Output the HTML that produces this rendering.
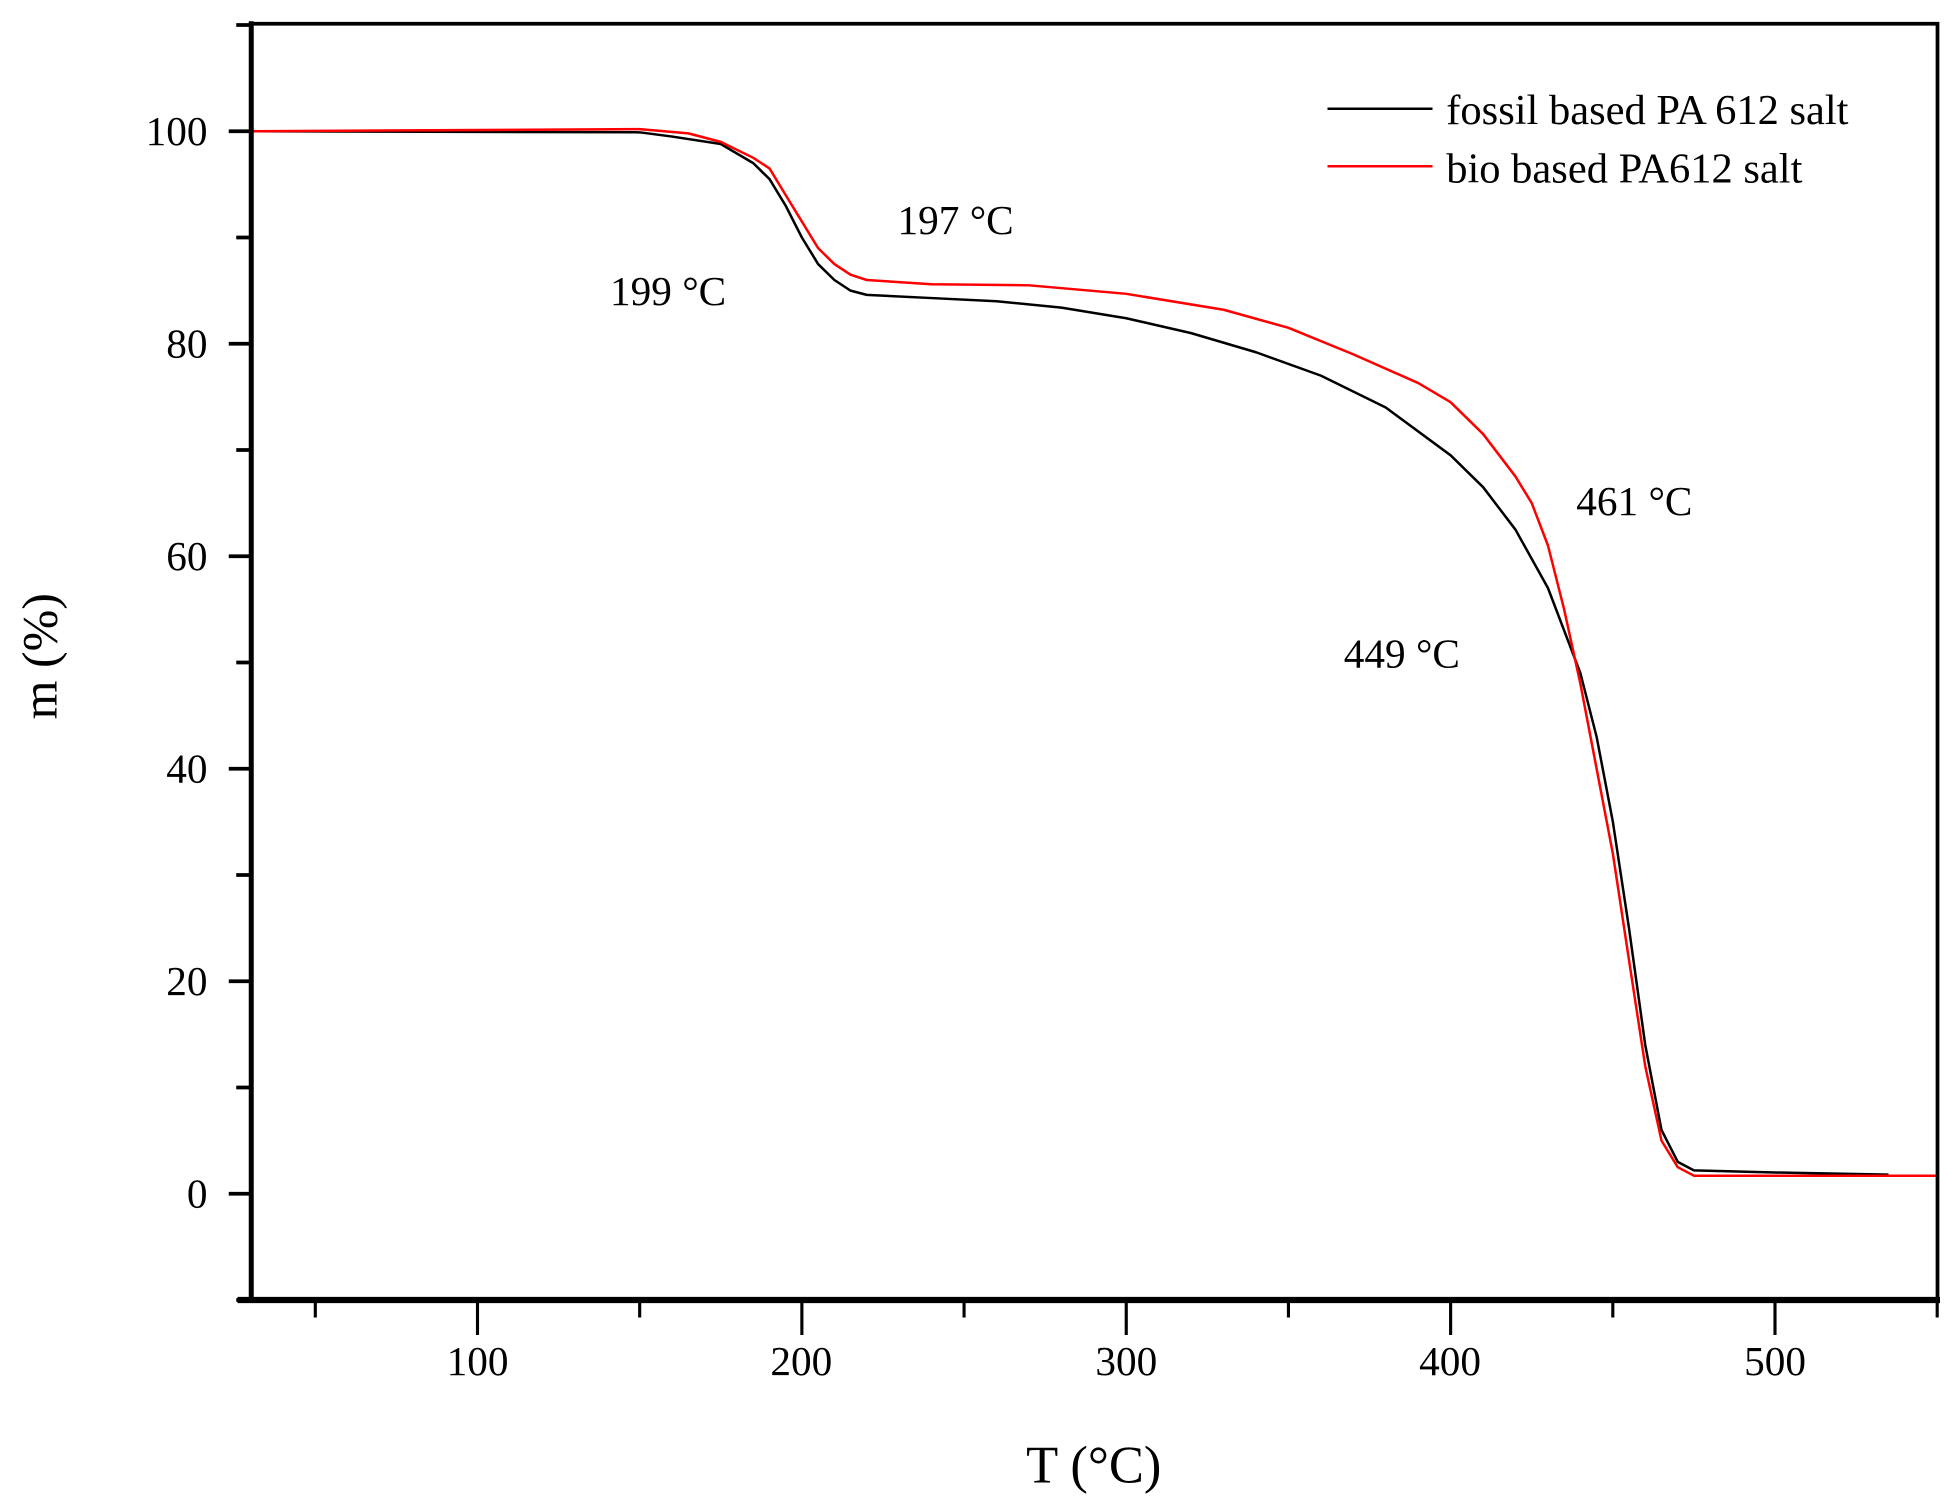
<!DOCTYPE html>
<html><head><meta charset="utf-8"><style>
html,body{margin:0;padding:0;background:#fff;}
svg{display:block;}
text{font-family:"Liberation Serif",serif;fill:#000;}
</style></head><body>
<svg width="1960" height="1507" viewBox="0 0 1568 1205.6" xmlns="http://www.w3.org/2000/svg">
<rect x="0" y="0" width="1568" height="1205.6" fill="#fff"/>
<g stroke="#000" stroke-width="2.5">
<line x1="252.25" y1="1040" x2="252.25" y2="1054"/>
<line x1="382" y1="1040" x2="382" y2="1068"/>
<line x1="511.75" y1="1040" x2="511.75" y2="1054"/>
<line x1="641.5" y1="1040" x2="641.5" y2="1068"/>
<line x1="771.25" y1="1040" x2="771.25" y2="1054"/>
<line x1="901" y1="1040" x2="901" y2="1068"/>
<line x1="1030.75" y1="1040" x2="1030.75" y2="1054"/>
<line x1="1160.5" y1="1040" x2="1160.5" y2="1068"/>
<line x1="1290.25" y1="1040" x2="1290.25" y2="1054"/>
<line x1="1420" y1="1040" x2="1420" y2="1068"/>
<line x1="1549.75" y1="1040" x2="1549.75" y2="1054"/>
</g>
<g stroke="#000" stroke-width="3">
<line x1="189" y1="1040" x2="201" y2="1040"/>
<line x1="183" y1="955" x2="201" y2="955"/>
<line x1="189" y1="870" x2="201" y2="870"/>
<line x1="183" y1="785" x2="201" y2="785"/>
<line x1="189" y1="700" x2="201" y2="700"/>
<line x1="183" y1="615" x2="201" y2="615"/>
<line x1="189" y1="530" x2="201" y2="530"/>
<line x1="183" y1="445" x2="201" y2="445"/>
<line x1="189" y1="360" x2="201" y2="360"/>
<line x1="183" y1="275" x2="201" y2="275"/>
<line x1="189" y1="190" x2="201" y2="190"/>
<line x1="183" y1="105" x2="201" y2="105"/>
<line x1="189" y1="20" x2="201" y2="20"/>
</g>
<polyline fill="none" stroke="#000" stroke-width="2" stroke-linejoin="round" points="200.35,105 511.75,105.85 537.7,109.25 576.6,115.2 602.6,130.5 615.6,143.25 628.5,164.5 641.5,190 654.5,211.25 667.5,224 680.4,232.5 693.4,235.9 745.3,238.45 797.2,241 849.1,246.1 901,254.6 952.9,266.5 1004.8,281.8 1056.7,300.5 1108.6,326 1160.5,364.25 1186.5,389.75 1212.4,423.75 1238.4,470.5 1264.3,538.5 1277.3,589.5 1290.3,657.5 1303.2,742.5 1316.2,836 1329.2,904 1342.2,929.5 1355.1,936.3 1420,938 1510.8,939.7"/>
<polyline fill="none" stroke="#ff0000" stroke-width="2" stroke-linejoin="round" points="200.35,105 511.75,103.3 550.7,106.7 576.6,113.5 602.6,126.25 615.6,134.75 628.5,156 641.5,177.25 654.5,198.5 667.5,211.25 680.4,219.75 693.4,224 745.3,227.4 823.2,228.25 901,235.05 978.9,247.8 1030.8,262.25 1082.7,283.5 1134.6,306.45 1160.5,321.75 1186.5,347.25 1212.4,381.25 1225.4,402.5 1238.4,436.5 1251.3,487.5 1264.3,547 1277.3,615 1290.3,683 1303.2,768 1316.2,853 1329.2,912.5 1342.2,933.75 1355.1,940.55 1549.75,940.55"/>
<rect x="201" y="19" width="1349" height="1021" fill="none" stroke="#000" stroke-width="3"/>
<line x1="190" y1="1040" x2="1552" y2="1040" stroke="#000" stroke-width="5"/>
<line x1="201" y1="17" x2="201" y2="1042" stroke="#000" stroke-width="4"/>
<g font-size="33" text-anchor="end">
<text x="166" y="116">100</text>
<text x="166" y="286">80</text>
<text x="166" y="456">60</text>
<text x="166" y="626">40</text>
<text x="166" y="796">20</text>
<text x="166" y="966">0</text>
</g>
<g font-size="33" text-anchor="middle">
<text x="382" y="1100">100</text>
<text x="641" y="1100">200</text>
<text x="901" y="1100">300</text>
<text x="1160" y="1100">400</text>
<text x="1420" y="1100">500</text>
</g>
<text x="875" y="1186" font-size="42" text-anchor="middle">T (°C)</text>
<text transform="translate(45,525) rotate(-90)" font-size="40" text-anchor="middle">m (%)</text>
<line x1="1062" y1="87" x2="1146" y2="87" stroke="#000" stroke-width="2"/>
<line x1="1062" y1="133" x2="1146" y2="133" stroke="#ff0000" stroke-width="2"/>
<g font-size="34">
<text x="1157" y="99">fossil based PA 612 salt</text>
<text x="1157" y="146">bio based PA612 salt</text>
</g>
<g font-size="33">
<text x="718" y="187">197 °C</text>
<text x="488" y="244">199 °C</text>
<text x="1261" y="412">461 °C</text>
<text x="1075" y="534">449 °C</text>
</g>
</svg>
</body></html>
